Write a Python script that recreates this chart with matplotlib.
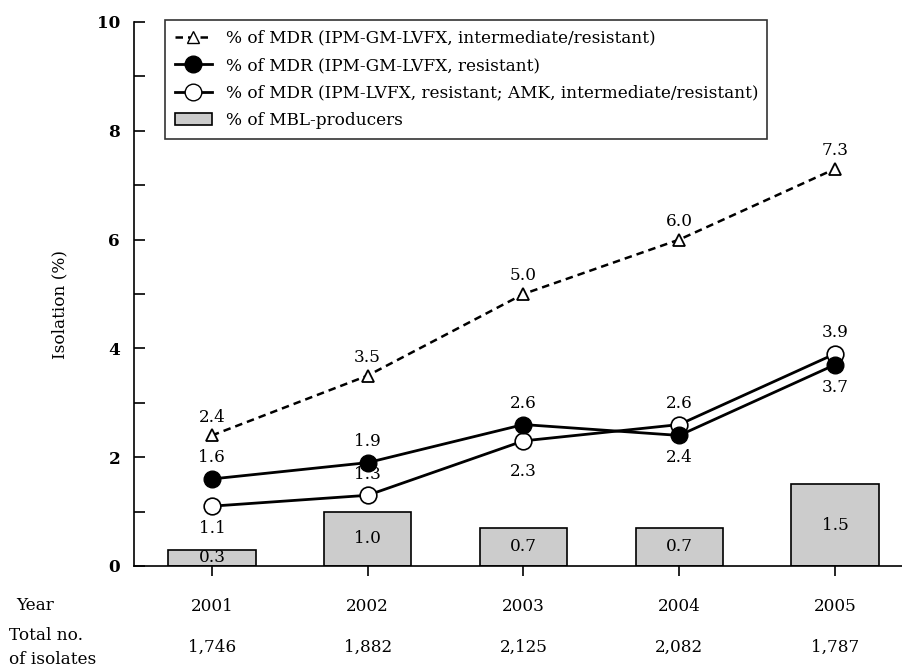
import matplotlib
matplotlib.use("Agg")
import matplotlib.pyplot as plt
from matplotlib.lines import Line2D
from matplotlib.patches import Patch

years = [2001, 2002, 2003, 2004, 2005]
year_labels = ["2001", "2002", "2003", "2004", "2005"]
totals = ["1,746", "1,882", "2,125", "2,082", "1,787"]
mdr_gm_ir = [2.4, 3.5, 5.0, 6.0, 7.3]
mdr_gm_r = [1.6, 1.9, 2.6, 2.4, 3.7]
mdr_amk = [1.1, 1.3, 2.3, 2.6, 3.9]
mbl = [0.3, 1.0, 0.7, 0.7, 1.5]

plt.rcParams['font.family'] = ['DejaVu Serif']

fig = plt.figure(figsize=(9.02, 6.72), dpi=100)
ax = fig.add_axes([134/902, 1 - 566/672, 1 - 134/902, 544/672])

ax.bar(years, mbl, width=0.56, color='#cccccc', edgecolor='black', linewidth=1.2, zorder=1)
ax.plot(years, mdr_gm_ir, ls=(0, (3, 2)), color='black', lw=1.8, marker='^',
        ms=9, mfc='white', mec='black', mew=1.3, zorder=3)
ax.plot(years, mdr_gm_r, ls='-', color='black', lw=2.0, marker='o',
        ms=12, mfc='black', mec='black', zorder=4)
ax.plot(years, mdr_amk, ls='-', color='black', lw=2.0, marker='o',
        ms=12, mfc='white', mec='black', mew=1.2, zorder=3)

fs = 12.2
for x, v in zip(years, mdr_gm_ir):
    ax.annotate(f"{v:.1f}", (x, v), xytext=(0, 7), textcoords='offset points',
                ha='center', va='bottom', fontsize=fs)
pos_r = ['above', 'above', 'above', 'below', 'below']
for x, v, p in zip(years, mdr_gm_r, pos_r):
    dy = 9 if p == 'above' else -10
    ax.annotate(f"{v:.1f}", (x, v), xytext=(0, dy), textcoords='offset points',
                ha='center', va='bottom' if p == 'above' else 'top', fontsize=fs)
pos_a = ['below', 'above', 'below', 'above', 'above']
for i, (x, v, p) in enumerate(zip(years, mdr_amk, pos_a)):
    dy = 9 if p == 'above' else -10
    if i == 2:
        dy = -16
    ax.annotate(f"{v:.1f}", (x, v), xytext=(0, dy), textcoords='offset points',
                ha='center', va='bottom' if p == 'above' else 'top', fontsize=fs)
for x, v in zip(years, mbl):
    ax.text(x, v / 2, f"{v:.1f}", ha='center', va='center', fontsize=fs, zorder=2)

ax.set_xlim(2000.5, 2005.43)
ax.set_ylim(0, 10)
ax.set_yticks([0, 2, 4, 6, 8, 10])
ax.set_yticks([1, 3, 5, 7, 9], minor=True)
ax.set_xticks(years)
ax.set_xticklabels(year_labels)
ax.tick_params(axis='y', which='both', direction='in', length=8, width=1.2,
               labelsize=fs, pad=10)
for t in ax.get_yticklabels():
    t.set_fontweight('bold')
ax.tick_params(axis='x', direction='out', length=7, width=1.2, labelsize=fs, pad=16)
for s in ['top', 'right']:
    ax.spines[s].set_visible(False)
for s in ['left', 'bottom']:
    ax.spines[s].set_linewidth(1.2)
ax.set_ylabel("Isolation (%)", fontsize=fs)
ax.yaxis.set_label_coords((68 - 134) / 768, 0.48)

fig.text(35/902, 1 - 605/672, "Year", ha='center', va='center', fontsize=fs)
fig.text(9/902, 1 - 635/672, "Total no.", ha='left', va='center', fontsize=fs)
fig.text(9/902, 1 - 660/672, "of isolates", ha='left', va='center', fontsize=fs)
for x, t in zip(years, totals):
    ax.text(x, -(647 - 566) / 544, t, transform=ax.get_xaxis_transform(),
            ha='center', va='center', fontsize=fs)

handles = [
    Line2D([], [], ls=(0, (3, 2)), color='black', lw=1.8, marker='^', ms=9,
           mfc='white', mec='black'),
    Line2D([], [], ls='-', color='black', lw=2.0, marker='o', ms=12,
           mfc='black', mec='black'),
    Line2D([], [], ls='-', color='black', lw=2.0, marker='o', ms=12,
           mfc='white', mec='black'),
    Patch(facecolor='#cccccc', edgecolor='black', linewidth=1.2),
]
labels = [
    "% of MDR (IPM-GM-LVFX, intermediate/resistant)",
    "% of MDR (IPM-GM-LVFX, resistant)",
    "% of MDR (IPM-LVFX, resistant; AMK, intermediate/resistant)",
    "% of MBL-producers",
]
leg = fig.legend(handles, labels, loc='upper left',
                 bbox_to_anchor=(157/902, 1 - 12/672), fontsize=12.2,
                 frameon=True, fancybox=False, edgecolor='black',
                 handlelength=2.2, handletextpad=0.8, labelspacing=0.62,
                 borderpad=0.55)
leg.get_frame().set_linewidth(1.2)

fig.savefig("out.png", dpi=100)
